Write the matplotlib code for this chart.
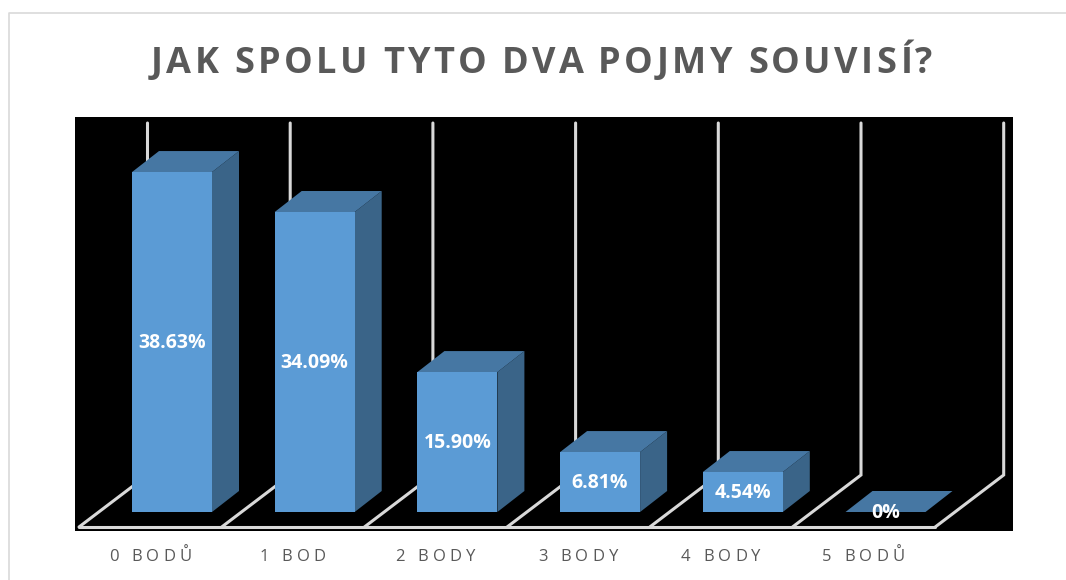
import matplotlib
matplotlib.use("Agg")
import matplotlib.pyplot as plt
from matplotlib.lines import Line2D
from matplotlib.patches import Polygon
from matplotlib.text import Text
from matplotlib.transforms import Bbox, IdentityTransform

TITLE = "JAK SPOLU TYTO DVA POJMY SOUVISÍ?"
categories = ["0 BODŮ", "1 BOD", "2 BODY", "3 BODY", "4 BODY", "5 BODŮ"]
values = [38.63, 34.09, 15.90, 6.81, 4.54, 0]
value_labels = ["38.63%", "34.09%", "15.90%", "6.81%", "4.54%", "0%"]

W, H = 1066, 580
STEP = 142.7      # px per category
SCALE = 8.8       # px per percent
FRONT = "#5B9BD5"
TOP = "#4677A3"
SIDE = "#3A6488"
GRID = "#D9D9D9"
GREY = "#595959"
FONT = "Open Sans"


class TrackedText(Text):
    """One text artist drawn with extra letter spacing (px), centred on its position."""

    def __init__(self, *args, tracking=0, **kwargs):
        super().__init__(*args, ha="center", va="baseline", **kwargs)
        self.tracking = tracking

    def _advance(self, renderer, s):
        if not s:
            return 0
        prop = self.get_fontproperties()
        return renderer.get_text_width_height_descent(s.replace(" ", "\u00a0"), prop, False)[0]

    def _layout_px(self, renderer):
        s = self.get_text()
        total = self._advance(renderer, s) + self.tracking * (len(s) - 1)
        x, y = self.get_transform().transform(self.get_position())
        return s, x - total / 2, y, total

    def draw(self, renderer):
        s, x0, y, _ = self._layout_px(renderer)
        for i, ch in enumerate(s):
            if ch == " ":
                continue
            x = x0 + self._advance(renderer, s[:i] + " ") - self._advance(renderer, " ") + self.tracking * i if i else x0
            t = Text(x, y, ch, transform=IdentityTransform(), color=self.get_color(),
                     fontproperties=self.get_fontproperties(), ha="left", va="baseline")
            t.set_figure(self.get_figure())
            t.draw(renderer)

    def get_window_extent(self, renderer=None, dpi=None):
        if renderer is None:
            renderer = self.get_figure().canvas.get_renderer()
        _, x0, y, total = self._layout_px(renderer)
        h = self.get_fontproperties().get_size_in_points() * self.get_figure().dpi / 72
        return Bbox([[x0, y - 0.25 * h], [x0 + total, y + 0.95 * h]])


fig = plt.figure(figsize=(W / 100, H / 100), dpi=100, facecolor="white")
fig.add_artist(Line2D([9 / W, 9 / W, 1], [0, 1 - 13 / H, 1 - 13 / H], color=GRID, lw=1.2,
                      transform=fig.transFigure))

# black plot area: pixels 75..1013, 117..531; value 0 sits at pixel row 512
ax = fig.add_axes([75 / W, 1 - 531 / H, (1013 - 75) / W, (531 - 117) / H], facecolor="black")
ax.set_xlim((75 - 172) / STEP, (1013 - 172) / STEP)
ax.set_ylim(-(531 - 512) / SCALE, (512 - 117) / SCALE)
ax.set_xticks([])
ax.set_yticks([])
for sp in ax.spines.values():
    sp.set_visible(False)

xpos = list(range(len(categories)))
bar_w = 80 / STEP
dx, dy = 27 / STEP, 21 / SCALE

# 3D floor and wall grid
front_y = -15 / SCALE
back_y = 37 / SCALE
wall_top = (512 - 123) / SCALE
gdx = 68.5 / STEP
left = (79 - 172) / STEP
glw = 2.2
ax.plot([left, left + len(xpos)], [front_y, front_y], color=GRID, lw=glw, zorder=1, solid_capstyle="round")
for i in range(len(xpos) + 1):
    ax.plot([left + i, left + i + gdx, left + i + gdx], [front_y, back_y, wall_top],
            color=GRID, lw=glw, zorder=1, solid_joinstyle="miter", solid_capstyle="round")

# 3D bars
ax.bar(xpos, values, width=bar_w, color=FRONT, linewidth=0, zorder=3)
for x, v in zip(xpos, values):
    l, r = x - bar_w / 2, x + bar_w / 2
    ax.add_patch(Polygon([(l, v), (r, v), (r + dx, v + dy), (l + dx, v + dy)], fc=TOP, ec="none", zorder=2.6))
    if v > 0:
        ax.add_patch(Polygon([(r, 0), (r + dx, dy), (r + dx, v + dy), (r, v)], fc=SIDE, ec="none", zorder=2.5))

# data labels
for x, v, s in zip(xpos, values, value_labels):
    ax.text(x, v / 2 - 0.1, s, color="white", family=FONT, fontweight="bold", fontsize=14,
            ha="center", va="center", zorder=5, clip_on=False)

# category labels
for x, s in zip(xpos, categories):
    ax.add_artist(TrackedText(x - 22 / STEP, (512 - 561) / SCALE, s, tracking=4.2, color=GREY,
                              family=FONT, fontsize=12, transform=ax.transData, clip_on=False))

# title
fig.add_artist(TrackedText(541.5 / W, 1 - 73 / H, TITLE, tracking=3.4, color=GREY, family=FONT,
                           fontweight="bold", fontsize=26, transform=fig.transFigure))

fig.savefig("out.png", dpi=100)
